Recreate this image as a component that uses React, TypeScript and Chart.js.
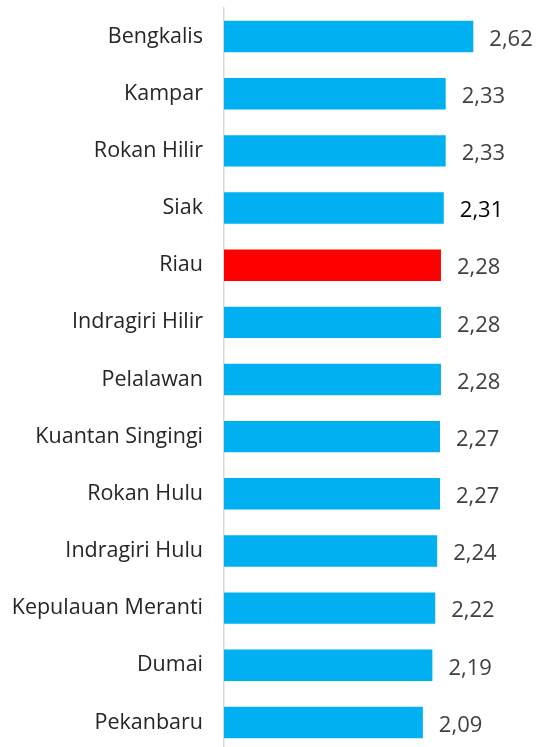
import React, { useEffect, useRef } from "react";
import { Chart, registerables } from "chart.js";

Chart.register(...registerables);

const categories = [
  "Bengkalis",
  "Kampar",
  "Rokan Hilir",
  "Siak",
  "Riau",
  "Indragiri Hilir",
  "Pelalawan",
  "Kuantan Singingi",
  "Rokan Hulu",
  "Indragiri Hulu",
  "Kepulauan Meranti",
  "Dumai",
  "Pekanbaru",
];
const values = [2.62, 2.33, 2.33, 2.31, 2.28, 2.28, 2.28, 2.27, 2.27, 2.24, 2.22, 2.19, 2.09];
const highlight = "Riau";

const FONT = "'Open Sans', Lato, sans-serif";

const valueLabels = {
  id: "valueLabels",
  afterDatasetsDraw(chart: any) {
    const ctx = chart.ctx;
    const meta = chart.getDatasetMeta(0);
    ctx.save();
    ctx.font = `22px ${FONT}`;
    ctx.textBaseline = "middle";
    ctx.textAlign = "left";
    meta.data.forEach((bar: any, i: number) => {
      ctx.fillStyle = categories[i] === "Siak" ? "#000000" : "#404040";
      const txt = values[i].toFixed(2).replace(".", ",");
      ctx.fillText(txt, bar.x + 16, bar.y + 3);
    });
    ctx.restore();
  },
};

export default function App() {
  const ref = useRef<HTMLCanvasElement>(null);
  useEffect(() => {
    const chart = new Chart(ref.current!, {
      type: "bar",
      data: {
        labels: categories,
        datasets: [
          {
            data: values,
            backgroundColor: categories.map((c) => (c === highlight ? "#ff0000" : "#00b0f0")),
            borderWidth: 0,
            categoryPercentage: 1,
            barPercentage: 0.55,
          },
        ],
      },
      options: {
        indexAxis: "y",
        animation: false,
        responsive: false,
        maintainAspectRatio: false,
        layout: { padding: { top: 8, bottom: 0, left: 0, right: 0 } },
        plugins: { legend: { display: false }, tooltip: { enabled: false } },
        scales: {
          x: {
            display: false,
            min: 0,
            max: 3.3,
            grid: { display: false },
          },
          y: {
            grid: { display: false, drawTicks: false },
            border: { display: true, color: "#d9d9d9", width: 1.5 },
            ticks: {
              color: "#262626",
              padding: 21,
              font: { size: 21.5, family: FONT },
            },
            afterFit(scale: any) {
              scale.width = 224;
              scale.paddingTop = 0;
              scale.paddingBottom = 0;
            },
          },
        },
      },
      plugins: [valueLabels],
    });
    return () => chart.destroy();
  }, []);
  return (
    <div style={{ position: "fixed", left: 0, top: 0, width: 538, height: 747, overflow: "hidden", background: "#fff" }}>
      <canvas ref={ref} width={538} height={751} style={{ display: "block" }} />
    </div>
  );
}
